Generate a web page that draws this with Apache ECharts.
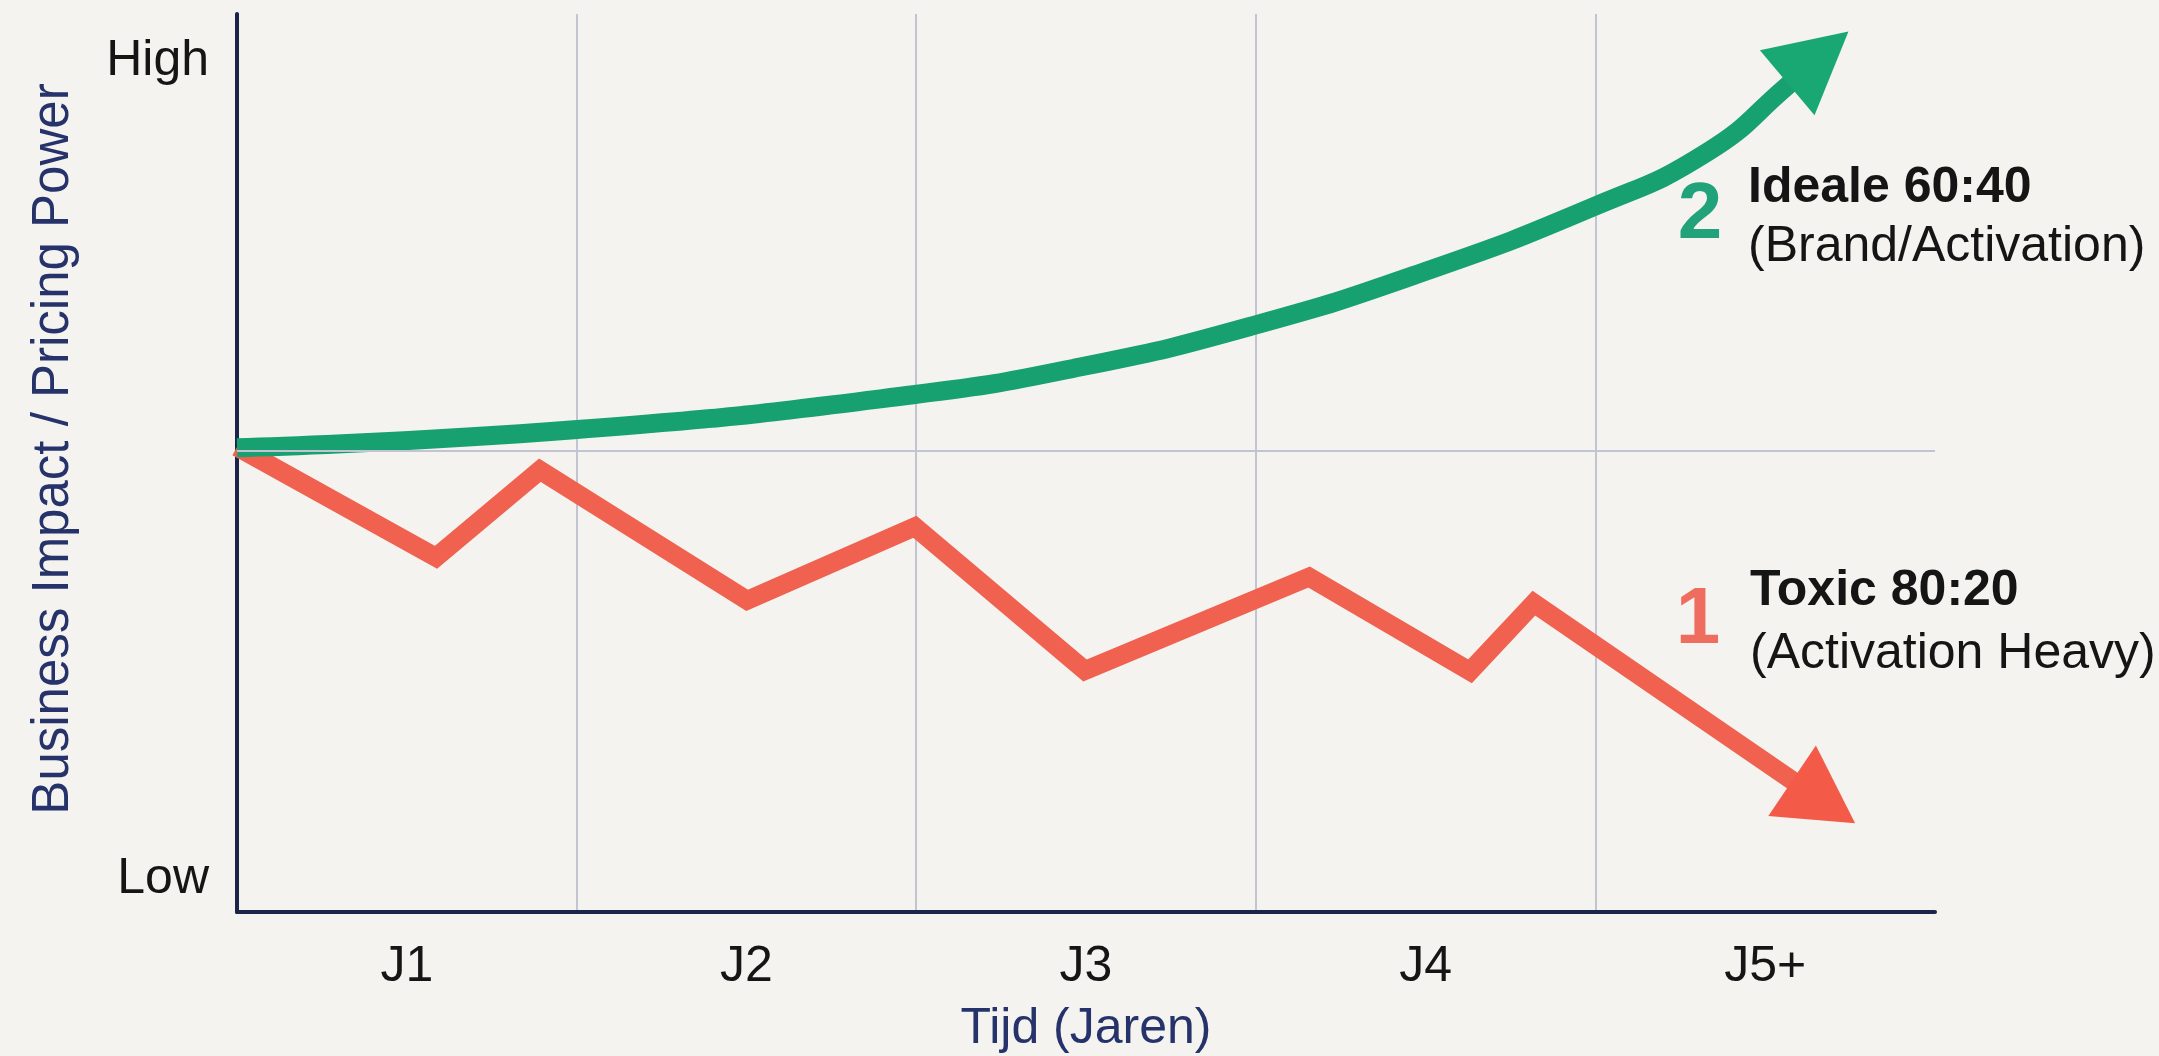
<!DOCTYPE html>
<html>
<head>
<meta charset="utf-8">
<script src="https://cdn.jsdelivr.net/npm/echarts@6/dist/echarts.min.js"></script>
<style>
html,body{margin:0;padding:0;background:#f4f3ef;}
#c{width:2159px;height:1056px;}
</style>
</head>
<body>
<div id="c"></div>
<script>
// ---- data ----
const categories = ['J1', 'J2', 'J3', 'J4', 'J5+'];
const yTickValues = [3.7, 94.7];
const yTickLabels = ['Low', 'High'];
const startLevel = 51.4;

// "Ideale 60:40" curve: x in years (0..5), y in impact (0..100)
const idealX = [0, 0.992, 1.991, 2.497, 2.992, 3.489, 3.993, 4.329, 4.565, 4.655];
const idealY = [51.7, 53.7, 57.6, 60.8, 65.3, 71.2, 78.5, 84.6, 92.0, 95.2];

// "Toxic 80:20" zigzag
const toxicX = [0, 0.586, 0.892, 1.502, 1.996, 2.497, 3.157, 3.631, 3.819, 4.672];
const toxicY = [51.8, 39.5, 49.2, 34.7, 42.9, 26.9, 37.3, 26.8, 34.4, 12.25];

const annotations = {
  ideal: { num: '2', title: 'Ideale 60:40', sub: '(Brand/Activation)' },
  toxic: { num: '1', title: 'Toxic 80:20', sub: '(Activation Heavy)' }
};

// ---- styles ----
const GREEN = '#17a070';
const RED = '#f0624f';
const NAVY = '#1b2449';
const TITLE = '#26336a';
const GRID = '#c2c4d3';
const TEXT = '#151515';
const FONT = '"Liberation Sans", Arial, sans-serif';

function buildData(xs, ys, arrow) {
  return xs.map(function (x, i) {
    if (i === xs.length - 1) {
      return {
        value: [x, ys[i]],
        symbol: 'triangle',
        symbolSize: arrow.size,
        symbolRotate: arrow.rotate,
        itemStyle: { color: arrow.color, borderWidth: 0 }
      };
    }
    return [x, ys[i]];
  });
}

const chart = echarts.init(document.getElementById('c'), null, { renderer: 'canvas' });

chart.setOption({
  animation: false,
  backgroundColor: '#f4f3ef',
  textStyle: { fontFamily: FONT },
  grid: { left: 237, right: 224, top: 14, bottom: 144, outerBoundsMode: 'none', containLabel: false },
  xAxis: [
    {
      type: 'category',
      data: categories,
      boundaryGap: true,
      axisLine: { show: true, lineStyle: { color: NAVY, width: 4 } },
      axisTick: { show: false },
      axisLabel: { fontSize: 50, color: TEXT, margin: 30, fontFamily: FONT },
      splitLine: { show: true, interval: 0, showMaxLine: false, lineStyle: { color: GRID, width: 2 } },
      name: 'Tijd (Jaren)',
      nameLocation: 'middle',
      nameGap: 92,
      nameTextStyle: { fontSize: 50, color: TITLE, fontFamily: FONT }
    },
    {
      type: 'value',
      min: 0,
      max: 5,
      show: false
    }
  ],
  yAxis: {
    type: 'value',
    min: 0,
    max: 100,
    axisLine: { show: true, onZero: false, lineStyle: { color: NAVY, width: 4 } },
    axisTick: { show: false },
    splitLine: { show: false },
    axisLabel: {
      customValues: yTickValues,
      formatter: function (v) {
        const i = yTickValues.indexOf(v);
        return i >= 0 ? yTickLabels[i] : '';
      },
      fontSize: 50,
      color: TEXT,
      margin: 28,
      fontFamily: FONT
    },
    name: 'Business Impact / Pricing Power',
    nameLocation: 'middle',
    nameGap: 158,
    nameTextStyle: { fontSize: 51, color: TITLE, fontFamily: FONT, padding: [0, 0, 0, 28] }
  },
  series: [
    {
      type: 'line',
      xAxisIndex: 1,
      data: [],
      z: 1,
      silent: true,
      markLine: {
        silent: true,
        symbol: 'none',
        label: { show: false },
        lineStyle: { color: GRID, width: 2, type: 'solid' },
        data: [{ yAxis: startLevel }]
      }
    },
    {
      name: 'Toxic 80:20',
      type: 'line',
      xAxisIndex: 1,
      z: 3,
      silent: true,
      symbol: 'none',
      showSymbol: true,
      lineStyle: { color: RED, width: 19, join: 'miter', cap: 'butt' },
      data: buildData(toxicX, toxicY, { size: [85, 76], rotate: -124, color: '#f35a48' })
    },
    {
      name: 'Ideale 60:40',
      type: 'line',
      xAxisIndex: 1,
      z: 4,
      silent: true,
      symbol: 'none',
      showSymbol: true,
      smooth: true,
      lineStyle: { color: GREEN, width: 19, cap: 'butt', join: 'round' },
      data: buildData(idealX, idealY, { size: [85, 80], rotate: -50, color: '#19a874' })
    }
  ],
  graphic: [
    { type: 'text', x: 1700, y: 216, silent: true,
      style: { text: annotations.ideal.num, fill: '#22a27a', fontSize: 80, fontWeight: 'bold', fontFamily: FONT, align: 'center', verticalAlign: 'middle' } },
    { type: 'text', x: 1748, y: 188, silent: true,
      style: { text: annotations.ideal.title, fill: TEXT, fontSize: 50, fontWeight: 'bold', fontFamily: FONT, align: 'left', verticalAlign: 'middle' } },
    { type: 'text', x: 1748, y: 247, silent: true,
      style: { text: annotations.ideal.sub, fill: TEXT, fontSize: 50, fontFamily: FONT, align: 'left', verticalAlign: 'middle' } },
    { type: 'text', x: 1698, y: 621, silent: true,
      style: { text: annotations.toxic.num, fill: '#ee6d5f', fontSize: 80, fontWeight: 'bold', fontFamily: FONT, align: 'center', verticalAlign: 'middle' } },
    { type: 'text', x: 1750, y: 591, silent: true,
      style: { text: annotations.toxic.title, fill: TEXT, fontSize: 50, fontWeight: 'bold', fontFamily: FONT, align: 'left', verticalAlign: 'middle' } },
    { type: 'text', x: 1750, y: 654, silent: true,
      style: { text: annotations.toxic.sub, fill: TEXT, fontSize: 50, fontFamily: FONT, align: 'left', verticalAlign: 'middle' } }
  ]
});
</script>
</body>
</html>
